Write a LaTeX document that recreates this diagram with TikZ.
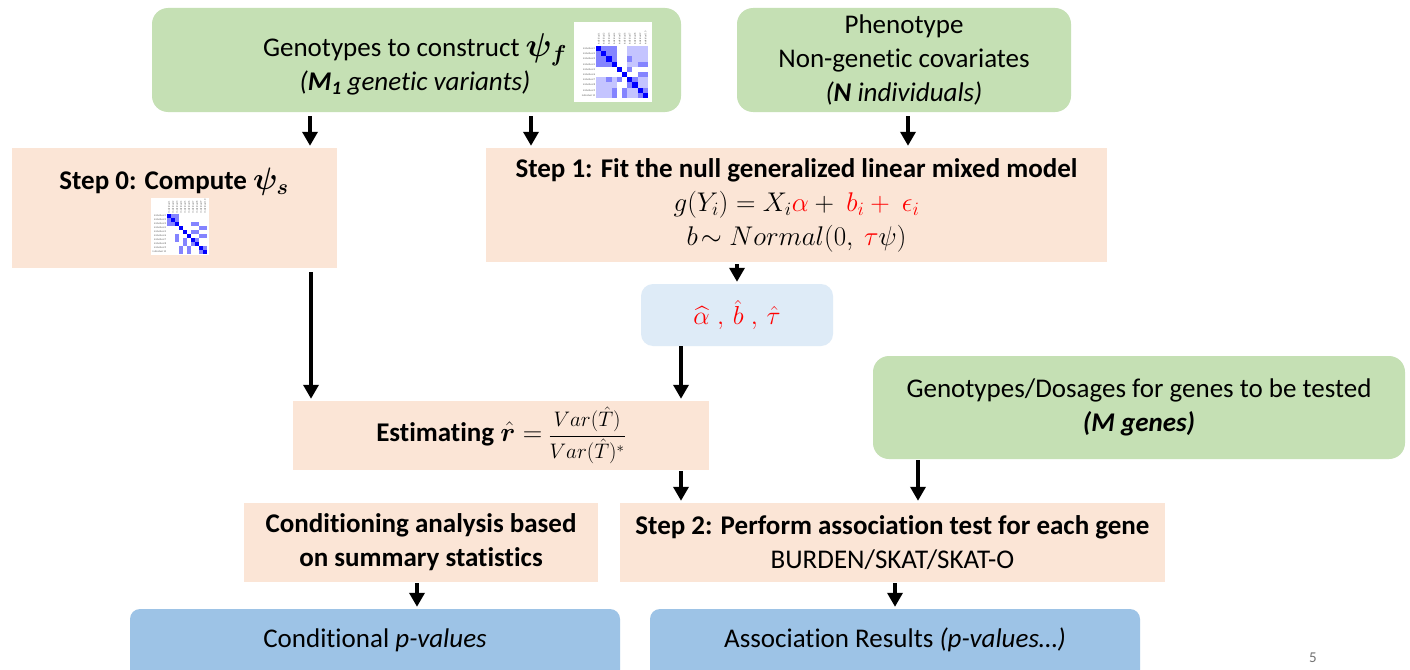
\RequirePackage{fix-cm}
\documentclass[tikz,border=0pt]{standalone}
\usepackage{amsmath,bm}
\usepackage{fontspec}
\setmainfont{Carlito}[Ligatures=NoCommon]
\usetikzlibrary{arrows.meta}
\definecolor{gbox}{HTML}{C5E0B4}
\definecolor{pbox}{HTML}{FBE5D6}
\definecolor{lbox}{HTML}{DEEBF7}
\definecolor{bluebox}{HTML}{9DC3E6}
\definecolor{mc0}{HTML}{FFFFFF}
\definecolor{mc1}{HTML}{C4C4FF}
\definecolor{mc2}{HTML}{8484FF}
\definecolor{mc3}{HTML}{0000FF}
\newcommand{\kinmat}[4]{%
  \foreach \rw [count=\i] in {#4} {
    \foreach \v [count=\j] in \rw {
      \fill[mc\v] ({#1+(\j-1)*#3},{#2+(\i-1)*#3}) rectangle ++(#3,#3);
    }
    \node[matlab, anchor=east] at ({#1-0.5},{#2+(\i-0.5)*#3}) {Individual \i};
    \node[matlab, anchor=west, rotate=90] at ({#1+(\i-0.5)*#3},{#2-0.8}) {Individual \i};
  }}
\begin{document}
\begin{tikzpicture}[x=1pt,y=-1pt,
  box/.style={inner sep=0pt, align=center, font=\fontsize{27}{34}\selectfont},
  greenbox/.style={box, fill=gbox, rounded corners=16pt},
  peachbox/.style={box, fill=pbox},
  lightbox/.style={box, fill=lbox, rounded corners=12pt},
  resbox/.style={box, fill=bluebox, rounded corners=10pt},
  txt/.style={inner sep=0pt, align=center, font=\fontsize{27}{34}\selectfont},
  matlab/.style={inner sep=0pt, font=\fontsize{2.6}{3}\selectfont, text=black!60},
  arr/.style={line width=3.4pt, -{Triangle[length=14pt,width=15pt]}, shorten <=4pt, shorten >=2pt}]
\clip (0,0) rectangle (1410,669);
\fill[white] (0,0) rectangle (1410,669);

% top green boxes
\node[greenbox, minimum width=529pt, minimum height=104pt] (gA) at (416.5,60) {};
\node[txt] (gAt) at (415,64) {Genotypes to construct {\fontsize{33}{34}\selectfont$\bm{\psi}_{\bm{f}}$}\\
  \textit{(\textbf{M\textsubscript{1}} genetic variants)}};
\fill[white] (574,22) rectangle (652,102);
\kinmat{596}{46}{5.2}{{3,2,2,2,0,0,1,1,1,1},{2,3,2,2,0,0,1,1,1,1},{2,2,3,2,0,0,2,1,1,1},{2,2,2,3,0,0,1,1,2,2},{0,0,0,0,3,0,2,0,0,0},{0,0,0,0,0,3,0,0,2,2},{1,1,2,1,2,0,3,2,1,1},{1,1,1,1,0,0,2,3,1,1},{1,1,1,2,0,2,1,1,3,2},{1,1,1,2,0,2,1,1,2,3}}

\node[greenbox, minimum width=334pt, minimum height=104pt] (gB) at (904,60)
  {Phenotype\\ Non-genetic covariates\\ \textit{(\textbf{N} individuals)}};

% step 0
\node[peachbox, minimum width=325pt, minimum height=120pt] (s0) at (174.5,208) {};
\node[txt] (s0t) at (174,182) {\textbf{Step 0: Compute {\fontsize{31}{34}\selectfont$\bm{\psi_s}$}}};
\fill[white] (151,198) rectangle (209,255);
\kinmat{167}{214}{4}{{3,2,2,0,0,0,0,0,0,0},{2,3,2,0,0,0,0,0,0,0},{2,2,3,0,0,0,2,2,0,0},{0,0,0,3,0,0,0,0,2,2},{0,0,0,0,3,0,2,2,0,0},{0,0,2,0,0,3,0,0,2,2},{0,0,2,0,2,0,3,2,0,0},{0,0,0,0,2,0,2,3,0,0},{0,0,0,2,0,2,0,0,3,2},{0,0,0,2,0,2,0,0,2,3}}

% step 1
\node[peachbox, minimum width=621pt, minimum height=114pt] (s1) at (796.5,205)
  {\textbf{Step 1: Fit the null generalized linear mixed model}\\
   $g(Y_i) = X_i{\color{red}\alpha} +\ {\color{red}b_i +\ \epsilon_i}$\\
   $b\!\sim Normal(0,\ {\color{red}\tau}\psi)$};

% estimates
\node[lightbox, minimum width=192pt, minimum height=62pt] (hat) at (737,315)
  {\fontsize{26}{32}\selectfont${\color{red}\widehat{\alpha}\;,\,\hat{b}\;,\,\hat{\tau}}$};

% estimating r
\node[peachbox, minimum width=416pt, minimum height=69pt] (est) at (501,435.5)
  {\textbf{Estimating} $\hat{\bm{r}} =$ {\fontsize{21}{24}\selectfont$\dfrac{Var(\hat{T})}{Var(\hat{T})^{*}}$}};

% M genes
\node[greenbox, minimum width=532pt, minimum height=103pt] (gM) at (1139,407.5)
  {Genotypes/Dosages for genes to be tested\\ \textit{\textbf{(M genes)}}};

% conditioning and step 2
\node[peachbox, minimum width=354pt, minimum height=79pt] (cond) at (421,542.5)
  {\textbf{Conditioning analysis based}\\ \textbf{on summary statistics}};
\node[peachbox, minimum width=545pt, minimum height=79pt] (s2) at (892.5,542.5)
  {\textbf{Step 2: Perform association test for each gene}\\ BURDEN/SKAT/SKAT-O};

% results
\node[resbox, minimum width=490pt, minimum height=72pt] (cp) at (375,645) {};
\node[txt] (cpt) at (375,640) {Conditional \textit{p-values}};
\node[resbox, minimum width=490pt, minimum height=72pt] (ap) at (895,645) {};
\node[txt] (apt) at (895,640) {Association Results \textit{(p-values…)}};

\node[inner sep=0pt, font=\fontsize{15}{16}\selectfont, text=black!55] (pg) at (1313,658) {5};

% arrows
\draw[arr] (gA.south -| 310,0) -- (s0.north -| 310,0);
\draw[arr] (gA.south -| 531,0) -- (s1.north -| 531,0);
\draw[arr] (gB.south -| 908,0) -- (s1.north -| 908,0);
\draw[arr, shorten <=2pt] (s1.south -| 737,0) -- (hat.north -| 737,0);
\draw[arr] (s0.south -| 311,0) -- (est.north -| 311,0);
\draw[arr, shorten <=0pt] (hat.south -| 681,0) -- (est.north -| 681,0);
\draw[arr, shorten <=1pt] (est.south -| 681,0) -- (s2.north -| 681,0);
\draw[arr, shorten <=1pt] (gM.south -| 918,0) -- (s2.north -| 918,0);
\draw[arr, shorten <=1pt] (cond.south -| 417,0) -- (cp.north -| 417,0);
\draw[arr, shorten <=1pt] (s2.south -| 895,0) -- (ap.north -| 895,0);
\end{tikzpicture}
\end{document}
